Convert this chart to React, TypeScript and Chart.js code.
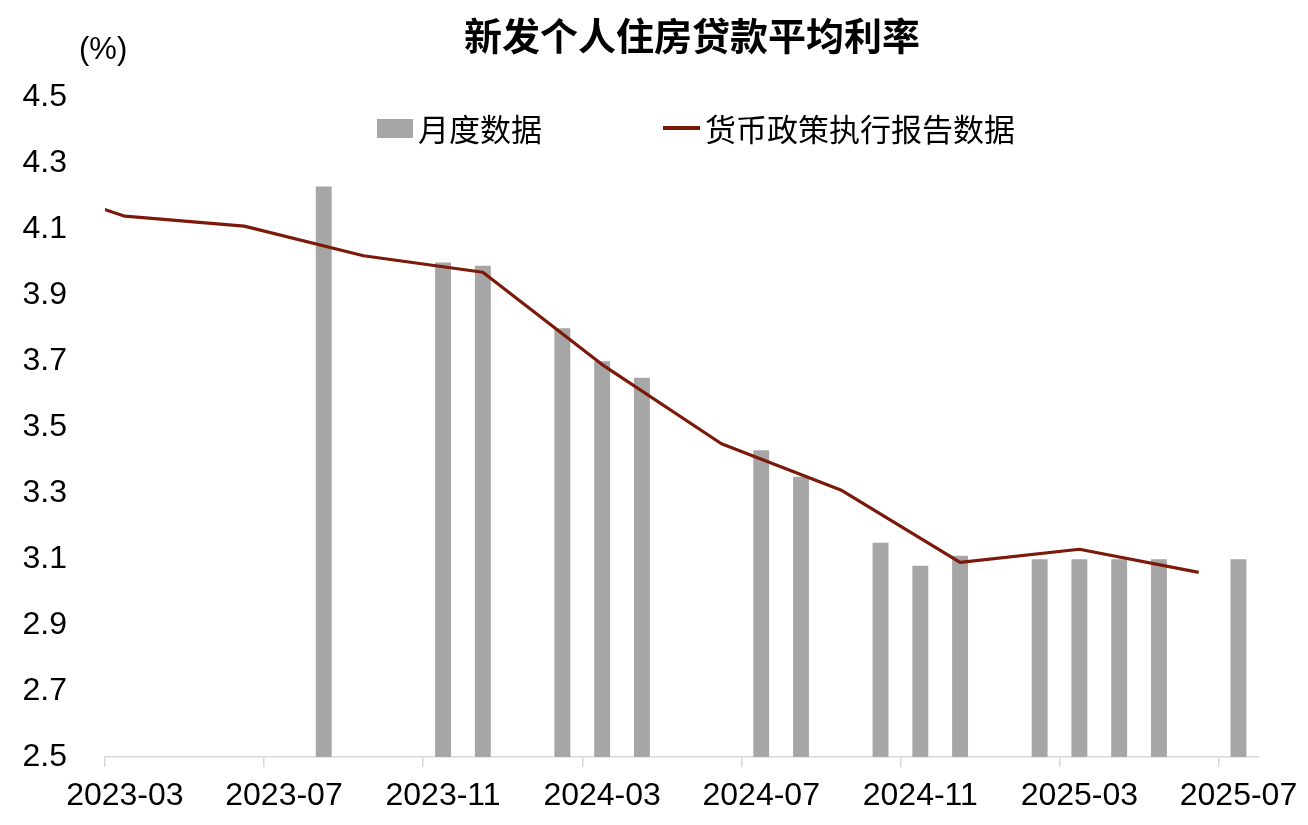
import React, { useEffect, useRef } from 'react';
import { Chart, registerables } from 'chart.js';

Chart.register(...registerables);

const NUM_FONT = '"Liberation Sans", Arial, sans-serif';
const CJK_FONT = '"Noto Sans CJK SC", "Noto Sans", sans-serif';

const TITLE = '新发个人住房贷款平均利率';
const UNIT = '(%)';
const BAR_LABEL = '月度数据';
const LINE_LABEL = '货币政策执行报告数据';

const categories = [
  '2023-03', '2023-04', '2023-05', '2023-06', '2023-07', '2023-08', '2023-09', '2023-10', '2023-11', '2023-12',
  '2024-01', '2024-02', '2024-03', '2024-04', '2024-05', '2024-06', '2024-07', '2024-08', '2024-09', '2024-10',
  '2024-11', '2024-12', '2025-01', '2025-02', '2025-03', '2025-04', '2025-05', '2025-06', '2025-07',
];

const barMonths = [
  '2023-08', '2023-11', '2023-12', '2024-02', '2024-03', '2024-04', '2024-07', '2024-08',
  '2024-10', '2024-11', '2024-12', '2025-02', '2025-03', '2025-04', '2025-05', '2025-07',
];
const barValues = [4.23, 4.0, 3.99, 3.8, 3.7, 3.65, 3.43, 3.35, 3.15, 3.08, 3.11, 3.1, 3.1, 3.1, 3.1, 3.1];

const lineMonths = [
  '2022-12', '2023-03', '2023-06', '2023-09', '2023-12', '2024-03',
  '2024-06', '2024-09', '2024-12', '2025-03', '2025-06',
];
const lineValues = [4.26, 4.14, 4.11, 4.02, 3.97, 3.69, 3.45, 3.31, 3.09, 3.13, 3.06];

const yMin = 2.5;
const yMax = 4.5;
const yStep = 0.2;
const labelEvery = 4;

const BAR_COLOR = '#A6A6A6';
const LINE_COLOR = '#7B1A0A';
const AXIS_COLOR = '#D9D9D9';

function monthIndex(m: string): number {
  const [y0, m0] = categories[0].split('-').map(Number);
  const [y, mo] = m.split('-').map(Number);
  return (y - y0) * 12 + (mo - m0);
}

const overlayPlugin = {
  id: 'overlay',
  afterDraw(chart: any) {
    const ctx = chart.ctx;
    ctx.save();
    ctx.fillStyle = '#000';
    ctx.textBaseline = 'middle';
    ctx.textAlign = 'center';
    ctx.font = `bold 38px ${CJK_FONT}`;
    ctx.fillText(TITLE, 692, 36);

    ctx.textAlign = 'left';
    ctx.font = `31px ${NUM_FONT}`;
    ctx.fillText(UNIT, 79, 50);

    const ds = chart.data.datasets;
    const barDs = ds[0];
    const lineDs = ds[1];
    ctx.fillStyle = barDs.backgroundColor;
    ctx.fillRect(377, 119, 36, 19);
    ctx.fillStyle = '#000';
    ctx.font = `31px ${CJK_FONT}`;
    ctx.fillText(barDs.label, 418, 129);
    ctx.strokeStyle = lineDs.borderColor;
    ctx.lineWidth = 4;
    ctx.beginPath();
    ctx.moveTo(663, 128);
    ctx.lineTo(700, 128);
    ctx.stroke();
    ctx.fillText(lineDs.label, 705, 129);
    ctx.restore();
  },
};

export default function App() {
  const canvasRef = useRef<HTMLCanvasElement | null>(null);

  useEffect(() => {
    const canvas = canvasRef.current;
    if (!canvas) return;

    const barData = categories.map((c) => {
      const i = barMonths.indexOf(c);
      return i >= 0 ? barValues[i] : null;
    });
    const lineData = lineMonths.map((m, i) => ({ x: monthIndex(m), y: lineValues[i] }));

    const chart = new Chart(canvas, {
      type: 'bar',
      data: {
        labels: categories,
        datasets: [
          {
            type: 'bar',
            label: BAR_LABEL,
            data: barData as any,
            backgroundColor: BAR_COLOR,
            barPercentage: 0.4,
            categoryPercentage: 1,
            grouped: false,
            xAxisID: 'x',
            yAxisID: 'y',
            order: 2,
          },
          {
            type: 'line',
            label: LINE_LABEL,
            data: lineData as any,
            borderColor: LINE_COLOR,
            backgroundColor: LINE_COLOR,
            borderWidth: 3.2,
            pointRadius: 0,
            tension: 0,
            borderJoinStyle: 'round',
            xAxisID: 'x2',
            yAxisID: 'y',
            clip: 0,
            order: 1,
          } as any,
        ],
      },
      options: {
        responsive: false,
        animation: false,
        devicePixelRatio: 1,
        layout: { padding: { left: 0, right: 47, top: 97.5, bottom: 0 } },
        plugins: {
          legend: { display: false },
          tooltip: { enabled: false },
          title: { display: false },
        },
        scales: {
          x: {
            type: 'category',
            offset: true,
            grid: {
              display: true,
              drawOnChartArea: false,
              drawTicks: true,
              tickLength: 10,
              offset: true,
              lineWidth: 1.5,
              color: (ctx: any) =>
                typeof ctx.index === 'number' && ctx.index % labelEvery === 0 ? AXIS_COLOR : 'rgba(0,0,0,0)',
            },
            border: { display: true, color: AXIS_COLOR, width: 1.5 },
            ticks: {
              autoSkip: false,
              maxRotation: 0,
              minRotation: 0,
              padding: 10,
              color: '#000',
              font: { family: NUM_FONT, size: 32 },
              callback: (_v: any, i: number) => (i % labelEvery === 0 ? categories[i] : ''),
            },
            afterFit: (s: any) => {
              s.height = 68;
            },
          },
          x2: {
            type: 'linear',
            display: false,
            offset: false,
            grid: { offset: false },
            bounds: 'ticks',
            min: -0.5,
            max: categories.length - 0.5,
          },
          y: {
            min: yMin,
            max: yMax,
            grid: { display: false },
            border: { display: false },
            ticks: {
              stepSize: yStep,
              padding: 30,
              color: '#000',
              font: { family: NUM_FONT, size: 32 },
              callback: (v: any) => Number(v).toFixed(1),
            },
            afterFit: (s: any) => {
              s.width = 105;
            },
          },
        },
      } as any,
      plugins: [overlayPlugin],
    });

    return () => chart.destroy();
  }, []);

  return (
    <div style={{ position: 'fixed', left: 0, top: 0, width: 1308, height: 825, background: '#fff' }}>
      <canvas ref={canvasRef} width={1308} height={825} style={{ display: 'block' }} />
    </div>
  );
}
